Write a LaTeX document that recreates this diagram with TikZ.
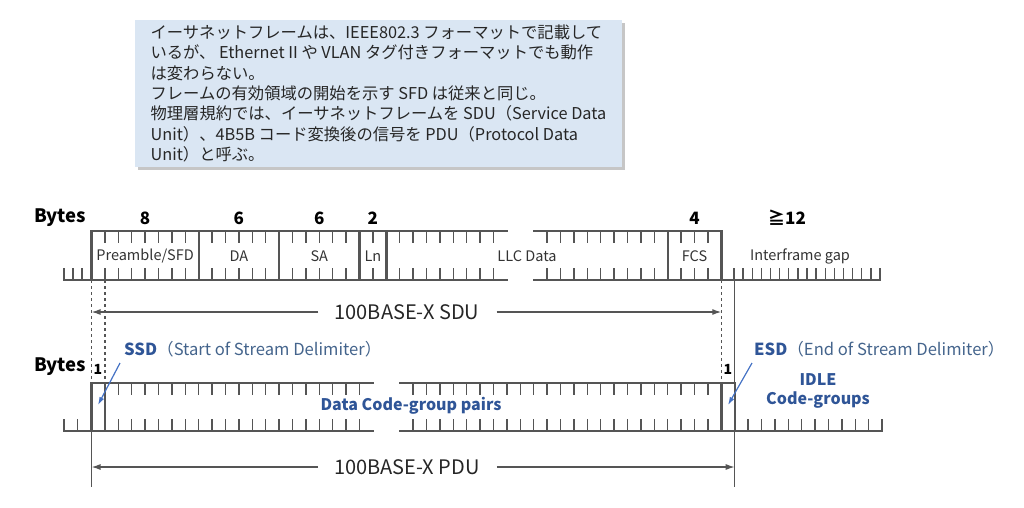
\documentclass[tikz,border=0pt]{standalone}
\usepackage{fontspec}
\setmainfont{Noto Sans CJK JP}
\usetikzlibrary{arrows.meta,shadows}

\definecolor{rulegray}{HTML}{555555}
\definecolor{notefill}{HTML}{DAE6F3}
\definecolor{delimblue}{HTML}{2F5597}
\definecolor{delimgray}{HTML}{44648C}
\definecolor{pointblue}{HTML}{4472C4}

\tikzset{
  boundary/.style={rulegray, line width=2.4pt, line cap=rect},
  scaletick/.style={rulegray, line width=1.4pt},
  guide/.style={rulegray, line width=1.3pt, dashed},
  bytehead/.style={font=\bfseries\fontsize{18.5}{18.5}\selectfont},
  bytecount/.style={font=\bfseries\fontsize{17}{17}\selectfont},
  fieldname/.style={font=\fontsize{14.5}{14.5}\selectfont, text=black!80},
  unitname/.style={font=\fontsize{20}{20}\selectfont, text=black!85, inner sep=0pt},
  codename/.style={font=\bfseries\fontsize{16}{19}\selectfont, text=delimblue, align=center},
  delimname/.style={font=\fontsize{16.6}{16.6}\selectfont, text=delimgray, anchor=west, inner sep=0pt},
  pointer/.style={pointblue, line width=1.2pt, -{Latex[length=8pt,width=5pt]}},
  unitarrow/.style={rulegray, line width=1.3pt, -{Latex[length=9pt,width=6pt]}},
}

\begin{document}
\begin{tikzpicture}[x=1pt,y=-1pt]
  \useasboundingbox (0,0) rectangle (1024,507);
  \def\bw{13.4}
  \def\xo{91.5}

  %% Note
  \node[fill=notefill, minimum width=487pt, minimum height=147pt, align=left,
        font=\fontsize{16.3}{20.3}\selectfont, text=black!85,
        drop shadow={shadow xshift=3pt, shadow yshift=-3pt, opacity=0.45, fill=black!50}]
        (note) at (378.5,93.5)
        {イーサネットフレームは、IEEE802.3 フォーマットで記載して\\
         いるが、 Ethernet II や VLAN タグ付きフォーマットでも動作\\
         は変わらない。\\
         フレームの有効領域の開始を示す SFD は従来と同じ。\\
         物理層規約では、イーサネットフレームを SDU（Service Data\\
         Unit）、4B5B コード変換後の信号を PDU（Protocol Data\\
         Unit）と呼ぶ。};

  %% Frame row (SDU)
  \draw[boundary] (\xo,231) -- ({\xo+31*\bw},231);
  \draw[boundary] ({\xo+33*\bw},231) -- ({\xo+47*\bw},231);
  \draw[boundary] (64,280) -- ({\xo+31*\bw},280);
  \draw[boundary] ({\xo+33*\bw},280) -- (880,280);
  \foreach \k in {0,8,14,20,22,43,47}
    \draw[boundary] ({\xo+\k*\bw},231) -- ({\xo+\k*\bw},280);
  \foreach \k in {1,2,3,4,5,6,7,9,10,11,12,13,15,16,17,18,19,21,23,24,25,26,27,28,29,30,34,35,36,37,38,39,40,41,42,44,45,46} {
    \draw[scaletick] ({\xo+\k*\bw},231) -- ++(0,12);
    \draw[scaletick] ({\xo+\k*\bw},280) -- ++(0,-12);
  }
  \foreach \x in {64,73,82}
    \draw[scaletick] (\x,280) -- ++(0,-12);
  \foreach \k in {0,...,16}
    \draw[scaletick] ({734+\k*9.125},280) -- ++(0,-12);

  %% Guides between the rows
  \draw[guide] (\xo,280) -- (\xo,383);
  \draw[guide] ({\xo+\bw},280) -- ({\xo+\bw},383);
  \draw[guide] ({\xo+47*\bw},280) -- ({\xo+47*\bw},383);
  \draw[scaletick] ({\xo+48*\bw},280) -- ({\xo+48*\bw},487);
  \draw[scaletick] (\xo,431) -- (\xo,487);

  %% Code-group row (PDU)
  \draw[boundary] (\xo,383) -- ({\xo+21*\bw},383);
  \draw[boundary] ({\xo+23*\bw},383) -- ({\xo+48*\bw},383);
  \draw[boundary] (64,431) -- ({\xo+21*\bw},431);
  \draw[boundary] ({\xo+23*\bw},431) -- ({\xo+59*\bw},431);
  \foreach \k in {0,1,47,48}
    \draw[boundary] ({\xo+\k*\bw},383) -- ({\xo+\k*\bw},431);
  \foreach \k in {2,...,20,24,25,...,46} {
    \draw[scaletick] ({\xo+\k*\bw},383) -- ++(0,12);
    \draw[scaletick] ({\xo+\k*\bw},431) -- ++(0,-12);
  }
  \foreach \x in {64,77.5}
    \draw[scaletick] (\x,431) -- ++(0,-12);
  \foreach \k in {49,...,59}
    \draw[scaletick] ({\xo+\k*\bw},431) -- ++(0,-12);

  %% Byte counts
  \node[bytehead] (bytes1) at (60,218) {Bytes};
  \node[bytecount] (npre) at ({\xo+4*\bw},218) {8};
  \node[bytecount] (nda) at ({\xo+11*\bw},218) {6};
  \node[bytecount] (nsa) at ({\xo+17*\bw},218) {6};
  \node[bytecount] (nln) at ({\xo+21*\bw},218) {2};
  \node[bytecount] (nfcs) at ({\xo+45*\bw},218) {4};
  \node[bytecount] (ngap) at (787,218) {≧12};
  \node[bytehead] (bytes2) at (60,367) {Bytes};
  \node[bytecount, font=\bfseries\fontsize{14}{14}\selectfont] (nssd) at (98,369) {1};
  \node[bytecount, font=\bfseries\fontsize{14}{14}\selectfont] (nesd) at (728,369) {1};

  %% Field names
  \node[fieldname] (pre) at ({\xo+4*\bw},256) {Preamble/SFD};
  \node[fieldname] (da) at ({\xo+11*\bw},256) {DA};
  \node[fieldname] (sa) at ({\xo+17*\bw},256) {SA};
  \node[fieldname] (ln) at ({\xo+21*\bw},256) {Ln};
  \node[fieldname] (llc) at (527,256) {LLC Data};
  \node[fieldname] (fcs) at ({\xo+45*\bw},256) {FCS};
  \node[fieldname] (ifg) at (800,256) {Interframe gap};
  \node[codename] (data) at (411,406) {Data Code-group pairs};
  \node[codename] (idle) at (818,391) {IDLE\\Code-groups};

  %% Delimiters
  \node[delimname] (ssd) at (124,349) {\textbf{\color{delimblue}SSD}（Start of Stream Delimiter）};
  \node[delimname] (esd) at (754,349) {\textbf{\color{delimblue}ESD}（End of Stream Delimiter）};
  \coordinate (ssdtip) at (98,405);
  \coordinate (esdtip) at (728,405);
  \draw[pointer] ([xshift=-4pt,yshift=-14pt]ssd.west) -- (ssdtip);
  \draw[pointer] ([xshift=-2pt,yshift=-14pt]esd.west) -- (esdtip);

  %% SDU and PDU extents
  \node[unitname] (sdu) at (407,312) {100BASE-X SDU};
  \node[unitname] (pdu) at (407,467) {100BASE-X PDU};
  \coordinate (sduL) at (\xo,312);
  \coordinate (sduR) at ({\xo+47*\bw},312);
  \coordinate (pduL) at (\xo,467);
  \coordinate (pduR) at ({\xo+48*\bw},467);
  \draw[unitarrow] ([xshift=-16pt]sdu.west) -- (sduL);
  \draw[unitarrow] ([xshift=17pt]sdu.east) -- (sduR);
  \draw[unitarrow] ([xshift=-16pt]pdu.west) -- (pduL);
  \draw[unitarrow] ([xshift=17pt]pdu.east) -- (pduR);
\end{tikzpicture}
\end{document}
